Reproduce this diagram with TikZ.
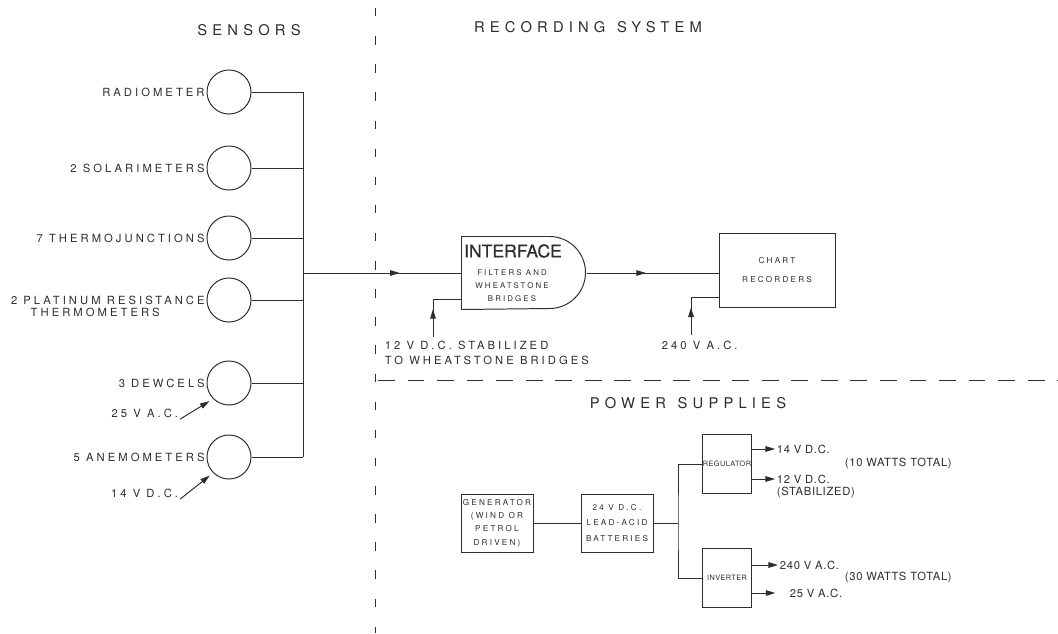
\documentclass[tikz,border=0pt]{standalone}
\usepackage{fontspec}
\setmainfont{TeX Gyre Heros}[LetterSpace=27]
\newfontfamily\headfont{TeX Gyre Heros}[LetterSpace=35]
\newfontfamily\ifacefont{TeX Gyre Heros}[FakeBold=0.6]
\newfontfamily\tightfont{TeX Gyre Heros}[LetterSpace=6]
\usepackage{tikz}
\usetikzlibrary{arrows.meta,positioning,calc,decorations.markings}
\definecolor{inkgray}{RGB}{45,45,45}

\begin{document}
\begin{tikzpicture}[x=0.025cm,y=-0.025cm,line width=0.7pt,draw=inkgray,
every node/.style={font=\fontsize{8}{10.7}\selectfont,text=inkgray,inner sep=1pt},
sensor/.style={circle,draw,minimum size=1.1cm,inner sep=0pt},
unit/.style={draw,align=center,inner sep=0pt,font=\fontsize{5.8}{9.5}\selectfont},
head/.style={font=\headfont\fontsize{10.5}{12}\selectfont},
outlbl/.style={anchor=west,font=\tightfont\fontsize{8}{10}\selectfont},
tip/.style={-{Triangle[length=2.4mm,width=1.4mm]}},
midarr/.style={postaction={decorate},decoration={markings,mark=at position #1 with {\arrow{Triangle[length=2.4mm,width=1.4mm]}}}}]
\useasboundingbox (0,0) rectangle (1058,633);

% section headings and separators
\node[head] (hsens) at (249,30) {SENSORS};
\node[head] (hrec) at (588,27) {RECORDING\ \,SYSTEM};
\node[head] (hpow) at (688,403) {POWER\ \,SUPPLIES};
\draw[dash pattern=on 6pt off 14pt] (375,8) -- (375,633);
\draw[dash pattern=on 12pt off 9pt] (378,380) -- (1058,380);

% sensors
\node[sensor] (rad) at (229,92) {};
\node[left=0pt of rad] (lrad) {RADIOMETER};
\node[sensor] (sol) at (229,168) {};
\node[left=0pt of sol] (lsol) {2 SOLARIMETERS};
\node[sensor] (thj) at (229,238) {};
\node[left=0pt of thj] (lthj) {7 THERMOJUNCTIONS};
\node[sensor] (plat) at (229,300) {};
\node[left=0pt of plat] (lplat) {2 PLATINUM RESISTANCE};
\node[anchor=north west,xshift=14pt] (lplat2) at (lplat.south west) {THERMOMETERS};
\node[sensor] (dew) at (229,383) {};
\node[left=0pt of dew] (ldew) {3 DEWCELS};
\node[sensor] (anem) at (229,457) {};
\node[left=0pt of anem] (lanem) {5 ANEMOMETERS};
\node[anchor=east] (v25) at (180,413) {25 V A.C.};
\node[anchor=east] (v14) at (180,493) {14 V D.C.};
\draw[tip,shorten >=3pt] (v25.south east) -- (dew.south west);
\draw[tip,shorten >=3pt] (v14.south east) -- (anem.south west);

% collecting bus
\coordinate (bustop) at (303,92);
\coordinate (busbot) at (303,457);
\coordinate (tap) at (303,273);
\draw (bustop) -- (busbot);
\draw (rad.east) -- (bustop);
\draw (sol.east) -- (sol.east -| bustop);
\draw (thj.east) -- (thj.east -| bustop);
\draw (plat.east) -- (plat.east -| bustop);
\draw (dew.east) -- (dew.east -| bustop);
\draw (anem.east) -- (busbot);

% recording system
\node[minimum width=3.1cm,minimum height=1.8cm] (iface) at (524,273) {};
\draw (iface.north west) -- ++(88,0) arc[start angle=-90,end angle=90,radius=36] -- (iface.south west) -- cycle;
\node[font=\ifacefont\fontsize{12.5}{14}\selectfont] (iftitle) at (513,251) {INTERFACE};
\node[align=center,font=\fontsize{5.6}{9.2}\selectfont] (iftext) at (512,286) {FILTERS AND\\WHEATSTONE\\BRIDGES};
\node[unit,minimum width=2.9cm,minimum height=1.85cm] (chart) at (777,270) {CHART\\[4pt]RECORDERS};
\draw[midarr=0.61] (tap) -- (iface.west);
\draw[midarr=0.45] (iface.east) -- (iface.east -| chart.west);
\coordinate (feed12) at (433,337);
\coordinate (feed240) at (691,335);
\draw[midarr=0.42] (feed12) |- ($(iface.west)+(0,26)$);
\draw[midarr=0.42] (feed240) |- ($(chart.west)+(0,27)$);
\node[anchor=north west,align=left] (l12) at (383,339) {12 V D.C. STABILIZED\\TO WHEATSTONE BRIDGES};
\node[anchor=north west] (l240) at (660,339) {240 V A.C.};

% power supplies
\node[unit,minimum width=1.8cm,minimum height=1.45cm] (gen) at (497,523) {GENERATOR\\(WIND OR\\PETROL\\DRIVEN)};
\node[unit,minimum width=1.8cm,minimum height=1.45cm,font=\fontsize{5.8}{11}\selectfont] (bat) at (617,523) {24 V D.C.\\LEAD-ACID\\BATTERIES};
\node[unit,minimum width=1.225cm,minimum height=1.475cm,label={[font=\tightfont\fontsize{5.2}{6}\selectfont]center:REGULATOR}] (reg) at (727,464) {};
\node[unit,minimum width=1.225cm,minimum height=1.475cm,label={[font=\tightfont\fontsize{5.2}{6}\selectfont]center:INVERTER}] (inv) at (727,578) {};
\coordinate (jn) at (678,523);
\draw (gen) -- (bat);
\draw (bat) -- (jn);
\draw (reg.west) -| (jn) |- (inv.west);
\node[outlbl] (o14) at (775,449) {14 V D.C.};
\node[outlbl] (o12) at (775,479) {12 V D.C.};
\node[outlbl,anchor=north west] (ostab) at (o12.south west) {(STABILIZED)};
\node[outlbl] (w10) at (843,463) {(10 WATTS TOTAL)};
\node[outlbl] (o240) at (778,565) {240 V A.C.};
\node[outlbl] (o25) at (788,593) {25 V A.C.};
\node[outlbl] (w30) at (843,577) {(30 WATTS TOTAL)};
\draw[tip] (reg.east |- o14) -- (o14.west);
\draw[tip] (reg.east |- o12) -- (o12.west);
\draw[tip] (inv.east |- o240) -- (o240.west);
\draw[tip,shorten >=9pt] (inv.east |- o25) -- (o25.west);
\end{tikzpicture}
\end{document}
